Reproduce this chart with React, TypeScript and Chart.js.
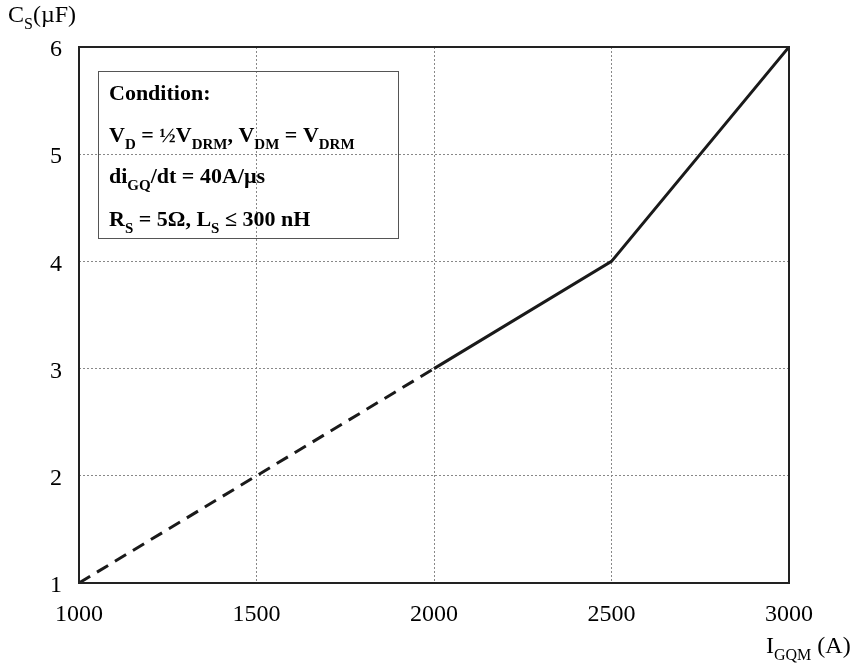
import React, { useEffect, useRef } from "react";
import { Chart, registerables } from "chart.js";

Chart.register(...registerables);

const currentA = [1000, 2000, 2500, 3000];
const capacitanceUF = [1, 3, 4, 6];
const dashedUpTo = 2000;
const xTicks = [1000, 1500, 2000, 2500, 3000];
const yTicks = [1, 2, 3, 4, 5, 6];

type Part = [string, boolean?];
const conditionTitle: Part[] = [["Condition:"]];
const conditionLines: Part[][] = [
  [["V"], ["D", true], [" = ½V"], ["DRM", true], [", V"], ["DM", true], [" = V"], ["DRM", true]],
  [["di"], ["GQ", true], ["/dt = 40A/µs"]],
  [["R"], ["S", true], [" = 5Ω, L"], ["S", true], [" ≤ 300 nH"]],
];
const yTitle: Part[] = [["C"], ["S", true], ["(µF)"]];
const xTitle: Part[] = [["I"], ["GQM", true], [" (A)"]];

const SERIF = '"Liberation Serif", "Times New Roman", serif';

function drawRich(
  ctx: CanvasRenderingContext2D,
  parts: Part[],
  x: number,
  y: number,
  size: number,
  bold: boolean
) {
  let cx = x;
  const w = bold ? "bold " : "";
  for (const [text, sub] of parts) {
    const fs = sub ? Math.round(size * 0.68) : size;
    ctx.font = `${w}${fs}px ${SERIF}`;
    ctx.fillText(text, cx, sub ? y + size * 0.3 : y);
    cx += ctx.measureText(text).width;
  }
}

const overlayPlugin = {
  id: "overlay",
  afterDraw(chart: any) {
    const ctx: CanvasRenderingContext2D = chart.ctx;
    const a = chart.chartArea;
    ctx.save();
    ctx.strokeStyle = "#222";
    ctx.lineWidth = 2;
    ctx.strokeRect(a.left, a.top, a.right - a.left, a.bottom - a.top);
    ctx.strokeStyle = "#555";
    ctx.lineWidth = 1;
    ctx.strokeRect(98.5, 71.5, 300, 167);
    ctx.fillStyle = "#000";
    ctx.textBaseline = "alphabetic";
    ctx.textAlign = "left";
    drawRich(ctx, conditionTitle, 109, 100, 22, true);
    const baselines = [142, 183, 226];
    conditionLines.forEach((ln, i) => drawRich(ctx, ln, 109, baselines[i], 22, true));
    drawRich(ctx, yTitle, 8, 22, 24, false);
    drawRich(ctx, xTitle, 766, 653, 24, false);
    ctx.restore();
  },
};

export default function App() {
  const ref = useRef<HTMLCanvasElement | null>(null);
  useEffect(() => {
    if (!ref.current) return;
    const chart = new Chart(ref.current, {
      type: "line",
      data: {
        datasets: [
          {
            data: currentA.map((x, i) => ({ x, y: capacitanceUF[i] })),
            borderColor: "#1a1a1a",
            borderWidth: 3,
            pointRadius: 0,
            fill: false,
            tension: 0,
            segment: {
              borderDash: (c: any) => (c.p1.parsed.x <= dashedUpTo ? [13, 8] : undefined),
            },
          },
        ],
      },
      options: {
        animation: false,
        responsive: false,
        maintainAspectRatio: false,
        layout: { padding: { top: 47, right: 68, left: 0, bottom: 0 } },
        plugins: { legend: { display: false }, tooltip: { enabled: false } },
        scales: {
          x: {
            type: "linear",
            min: 1000,
            max: 3000,
            afterBuildTicks: (s: any) => {
              s.ticks = xTicks.map((v) => ({ value: v }));
            },
            afterFit: (s: any) => {
              s.height = 84;
            },
            grid: { color: "#888", lineWidth: 1, drawTicks: false },
            border: { display: false, dash: [2, 2] },
            ticks: {
              color: "#000",
              font: { family: SERIF, size: 24 },
              padding: 17,
              maxRotation: 0,
              callback: (v: any) => String(v),
            },
          },
          y: {
            type: "linear",
            min: 1,
            max: 6,
            afterBuildTicks: (s: any) => {
              s.ticks = yTicks.map((v) => ({ value: v }));
            },
            afterFit: (s: any) => {
              s.width = 79;
            },
            grid: { color: "#888", lineWidth: 1, drawTicks: false },
            border: { display: false, dash: [2, 2] },
            ticks: {
              color: "#000",
              font: { family: SERIF, size: 24 },
              padding: 17,
              labelOffset: 3,
              callback: (v: any) => String(v),
            },
          },
        },
      },
      plugins: [overlayPlugin],
    });
    return () => chart.destroy();
  }, []);
  return (
    <div style={{ position: "fixed", left: 0, top: 0, width: 857, height: 667, background: "#fff" }}>
      <canvas ref={ref} width={857} height={667} style={{ display: "block" }} />
    </div>
  );
}
